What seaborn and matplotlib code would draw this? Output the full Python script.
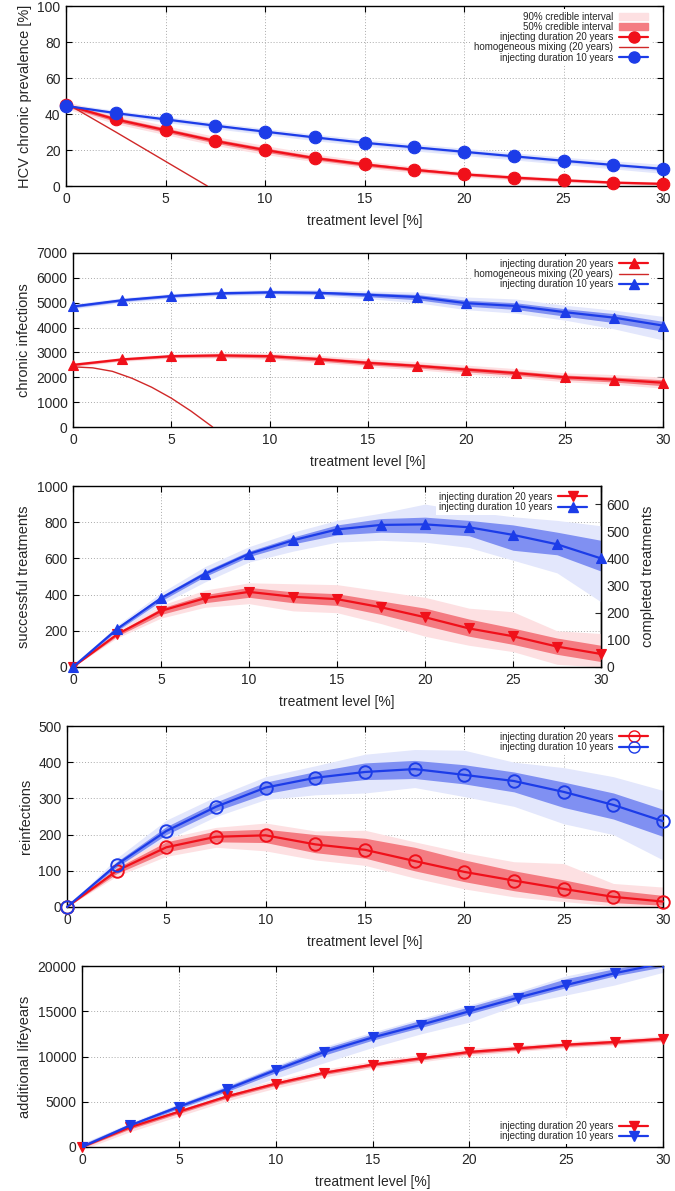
import numpy as np
import pandas as pd
import seaborn as sns
import matplotlib.pyplot as plt
from matplotlib.lines import Line2D
from matplotlib.patches import Patch

# treatment levels [%]
x = [0, 2.5, 5, 7.5, 10, 12.5, 15, 17.5, 20, 22.5, 25, 27.5, 30]

# --- HCV chronic prevalence [%]
prev_red = [45, 37, 31, 25, 20, 15.5, 12, 9, 6.5, 4.7, 3.2, 1.9, 1.2]
prev_red50_lo = [44, 35.8, 29.8, 23.8, 18.8, 14.5, 11, 8.2, 5.8, 4, 2.6, 1.4, 0.8]
prev_red50_hi = [46, 38.2, 32.2, 26.2, 21.2, 16.6, 13, 9.9, 7.3, 5.4, 3.8, 2.4, 1.7]
prev_red90_lo = [43, 34.5, 28.5, 22.5, 17.5, 13.5, 10, 7.3, 5, 3.3, 2, 1, 0.4]
prev_red90_hi = [47, 39.5, 33.5, 27.5, 22.5, 17.8, 14, 10.8, 8, 6.1, 4.4, 3, 2.3]
prev_blue = [44.5, 40.5, 37, 33.5, 30.2, 27, 24, 21.5, 19, 16.5, 14, 11.7, 9.5]
prev_blue50_lo = [43.7, 39.7, 36.2, 32.7, 29.4, 26.2, 23.1, 20.6, 18, 15.5, 13, 10.6, 8.3]
prev_blue50_hi = [45.3, 41.3, 37.8, 34.3, 31, 27.8, 24.9, 22.4, 20, 17.5, 15, 12.8, 10.7]
prev_blue90_lo = [43, 39, 35.3, 31.8, 28.5, 25.2, 22.2, 19.5, 17, 14.5, 12, 9.5, 7]
prev_blue90_hi = [46, 42, 38.6, 35.2, 32, 28.8, 26, 23.4, 21, 18.5, 16, 14, 12]
prev_hom_x = [0, 2.5, 5, 7.1]
prev_hom = [46, 30, 13.7, 0]

# --- chronic infections
chr_red = [2500, 2720, 2850, 2880, 2850, 2730, 2580, 2460, 2310, 2170, 2000, 1910, 1780]
chr_red50_lo = [2460, 2680, 2800, 2820, 2780, 2650, 2500, 2380, 2220, 2080, 1910, 1810, 1660]
chr_red50_hi = [2540, 2760, 2900, 2940, 2920, 2810, 2660, 2540, 2400, 2260, 2090, 2010, 1900]
chr_red90_lo = [2420, 2640, 2760, 2770, 2720, 2590, 2430, 2300, 2140, 1990, 1820, 1720, 1560]
chr_red90_hi = [2580, 2800, 2940, 2990, 2980, 2880, 2740, 2630, 2490, 2350, 2180, 2110, 2010]
chr_blue = [4850, 5100, 5270, 5380, 5420, 5400, 5320, 5230, 4980, 4870, 4620, 4400, 4080]
chr_blue50_lo = [4800, 5050, 5220, 5330, 5370, 5340, 5240, 5120, 4860, 4730, 4460, 4200, 3850]
chr_blue50_hi = [4900, 5150, 5320, 5430, 5470, 5460, 5400, 5330, 5100, 5000, 4760, 4560, 4250]
chr_blue90_lo = [4750, 5000, 5170, 5280, 5310, 5270, 5160, 5000, 4720, 4580, 4300, 3950, 3500]
chr_blue90_hi = [4950, 5200, 5370, 5480, 5530, 5530, 5470, 5430, 5230, 5150, 4900, 4700, 4450]
chr_hom_x = [0, 1, 2, 3, 4, 5, 6, 7.1]
chr_hom = [2420, 2380, 2240, 1960, 1600, 1160, 640, 0]

# --- successful treatments
suc_red = [0, 180, 310, 380, 415, 388, 375, 330, 275, 213, 170, 113, 72]
suc_red50_lo = [0, 170, 290, 355, 385, 355, 340, 290, 230, 170, 125, 70, 30]
suc_red50_hi = [0, 190, 325, 400, 440, 415, 405, 365, 325, 265, 215, 160, 120]
suc_red90_lo = [0, 160, 270, 330, 350, 310, 300, 240, 170, 120, 85, 15, 0]
suc_red90_hi = [0, 200, 340, 425, 465, 460, 455, 420, 385, 325, 305, 200, 185]
suc_blue = [0, 210, 380, 515, 625, 700, 760, 785, 788, 772, 730, 678, 600]
suc_blue50_lo = [0, 200, 365, 500, 610, 680, 730, 745, 740, 725, 645, 620, 530]
suc_blue50_hi = [0, 220, 392, 530, 640, 718, 785, 820, 828, 810, 785, 745, 700]
suc_blue90_lo = [0, 190, 345, 470, 580, 640, 690, 700, 690, 660, 590, 520, 360]
suc_blue90_hi = [0, 230, 410, 555, 665, 745, 810, 850, 900, 860, 830, 810, 780]

# --- reinfections
rei_red = [0, 100, 165, 194, 198, 173, 158, 127, 97, 73, 50, 28, 15]
rei_red50_lo = [0, 92, 152, 180, 178, 150, 135, 100, 70, 45, 25, 12, 5]
rei_red50_hi = [0, 108, 180, 210, 215, 200, 190, 165, 130, 100, 75, 47, 32]
rei_red90_lo = [0, 85, 140, 165, 155, 130, 115, 80, 50, 28, 15, 3, 0]
rei_red90_hi = [0, 115, 190, 220, 232, 210, 212, 180, 150, 125, 120, 65, 55]
rei_blue = [0, 117, 210, 277, 330, 357, 373, 381, 365, 348, 318, 282, 237]
rei_blue50_lo = [0, 110, 200, 265, 313, 338, 352, 355, 340, 318, 275, 243, 195]
rei_blue50_hi = [0, 125, 222, 290, 345, 374, 398, 405, 393, 373, 345, 315, 270]
rei_blue90_lo = [0, 100, 185, 250, 297, 310, 315, 330, 305, 278, 230, 200, 130]
rei_blue90_hi = [0, 135, 240, 305, 360, 390, 422, 435, 433, 400, 385, 360, 322]

# --- additional lifeyears
ly_red = [0, 2200, 3900, 5600, 7000, 8200, 9100, 9800, 10500, 10900, 11300, 11600, 11950]
ly_red50_lo = [-100, 2000, 3700, 5400, 6800, 8000, 8900, 9600, 10300, 10700, 11100, 11400, 11750]
ly_red50_hi = [100, 2400, 4100, 5800, 7200, 8400, 9300, 10000, 10700, 11100, 11500, 11800, 12150]
ly_red90_lo = [-300, 1700, 3400, 5100, 6500, 7700, 8700, 9400, 10100, 10550, 10950, 11250, 11600]
ly_red90_hi = [300, 2600, 4300, 6000, 7400, 8600, 9500, 10200, 10900, 11250, 11650, 11950, 12300]
ly_blue = [0, 2400, 4450, 6400, 8500, 10500, 12100, 13500, 15000, 16500, 17900, 19200, 20300]
ly_blue50_lo = [0, 2250, 4250, 6150, 8200, 10150, 11800, 13200, 14700, 16200, 17600, 18900, 19900]
ly_blue50_hi = [300, 2600, 4700, 6700, 8850, 10900, 12500, 14000, 15500, 17000, 18600, 19700, 20600]
ly_blue90_lo = [0, 2100, 4000, 5800, 7600, 9300, 11000, 12500, 13800, 15700, 16800, 17900, 19300]
ly_blue90_hi = [400, 2700, 4800, 6850, 9000, 11100, 12700, 14200, 15700, 17200, 18900, 20000, 20900]

lbl20 = "injecting duration 20 years"
lbl10 = "injecting duration 10 years"
lblhom = "homogeneous mixing (20 years)"

RED = '#f0101a'
BLUE = '#1c3ce8'
RED50 = '#f47c82'
RED90 = '#fde0e2'
BLUE50 = '#8090f2'
BLUE90 = '#e3e7fc'
HOM = '#d02828'

sns.set_theme(style='ticks')
plt.rcParams['font.family'] = ['Liberation Sans', 'DejaVu Sans']
plt.rcParams['axes.edgecolor'] = 'black'
plt.rcParams['axes.linewidth'] = 1.0

fig = plt.figure(figsize=(6.75, 11.91), dpi=100)

W, H = 675.0, 1191.0
def place(l, r, t, b):
    return fig.add_axes([l / W, 1 - b / H, (r - l) / W, (b - t) / H])

ax1 = place(66, 663, 6, 186)
ax2 = place(73, 663, 253, 427)
ax3 = place(73, 601, 486, 667)
ax4 = place(67, 663, 726, 907)
ax5 = place(82, 663, 966, 1147)

def bands(ax, lo90, hi90, lo50, hi50, c90, c50):
    ax.fill_between(x, lo90, hi90, color=c90, lw=0, zorder=1)
    ax.fill_between(x, lo50, hi50, color=c50, lw=0, zorder=2)

def series(ax, y, color, marker, ms, open_=False, clip=False):
    sns.lineplot(x=x, y=y, ax=ax, color=color, lw=1.6, marker=marker,
                 markersize=ms, markeredgecolor=color,
                 markerfacecolor='none' if open_ else color,
                 markeredgewidth=1.4 if open_ else 0.8,
                 clip_on=clip, zorder=5)

def style(ax, ylim, ystep, ylabel, right=True):
    ax.set_xlim(0, 30)
    ax.set_ylim(*ylim)
    ax.set_xticks(np.arange(0, 31, 5))
    ax.set_yticks(np.arange(ylim[0], ylim[1] + 1, ystep))
    ax.grid(True, color='#aaaaaa', ls=(0, (1, 2)), lw=0.7)
    ax.set_axisbelow(True)
    ax.tick_params(direction='in', top=True, right=right, length=4,
                   width=0.8, labelsize=10, color='black', pad=4)
    ax.set_xlabel("treatment level [%]", fontsize=10, labelpad=6)
    ax.set_ylabel(ylabel, fontsize=10.5)

def legend(ax, handles, labels, loc='upper right', anchor=(0.985, 1.0)):
    lg = ax.legend(handles, labels, loc=loc, bbox_to_anchor=anchor,
                   markerfirst=False,
                   alignment='right', frameon=True, framealpha=1,
                   facecolor='white', edgecolor='none', fancybox=False,
                   prop={'family': ['Liberation Sans Narrow', 'Liberation Sans'], 'size': 7},
                   handlelength=3.0, handletextpad=0.6, labelspacing=0.02,
                   borderpad=0.3, borderaxespad=0.3)
    lg.set_zorder(10)

def hline(color, marker, ms, open_=False):
    return Line2D([], [], color=color, lw=1.6, marker=marker, markersize=ms,
                  markeredgecolor=color,
                  markerfacecolor='none' if open_ else color)

# panel 1
bands(ax1, prev_blue90_lo, prev_blue90_hi, prev_blue50_lo, prev_blue50_hi, BLUE90, '#ccd3f8')
bands(ax1, prev_red90_lo, prev_red90_hi, prev_red50_lo, prev_red50_hi, RED90, RED50)
ax1.plot(prev_hom_x, prev_hom, color=HOM, lw=1.0, zorder=4)
series(ax1, prev_red, RED, 'o', 9)
series(ax1, prev_blue, BLUE, 'o', 9)
style(ax1, (0, 100), 20, "HCV chronic prevalence [%]")
legend(ax1,
       [Patch(color=RED90), Patch(color=RED50), hline(RED, 'o', 8),
        Line2D([], [], color=HOM, lw=1.0), hline(BLUE, 'o', 8)],
       ["90% credible interval", "50% credible interval", lbl20, lblhom, lbl10])

# panel 2
bands(ax2, chr_blue90_lo, chr_blue90_hi, chr_blue50_lo, chr_blue50_hi, BLUE90, BLUE50)
bands(ax2, chr_red90_lo, chr_red90_hi, chr_red50_lo, chr_red50_hi, RED90, RED50)
ax2.plot(chr_hom_x, chr_hom, color=HOM, lw=1.0, zorder=4)
series(ax2, chr_red, RED, '^', 7)
series(ax2, chr_blue, BLUE, '^', 7)
style(ax2, (0, 7000), 1000, "chronic infections")
legend(ax2, [hline(RED, '^', 7), Line2D([], [], color=HOM, lw=1.0), hline(BLUE, '^', 7)],
       [lbl20, lblhom, lbl10])

# panel 3
bands(ax3, suc_blue90_lo, suc_blue90_hi, suc_blue50_lo, suc_blue50_hi, BLUE90, BLUE50)
bands(ax3, suc_red90_lo, suc_red90_hi, suc_red50_lo, suc_red50_hi, RED90, RED50)
series(ax3, suc_red, RED, 'v', 7)
series(ax3, suc_blue, BLUE, '^', 7)
style(ax3, (0, 1000), 200, "successful treatments", right=False)
sec = ax3.secondary_yaxis('right', functions=(lambda v: v * 2 / 3, lambda v: v * 1.5))
sec.set_yticks(np.arange(0, 601, 100))
sec.tick_params(direction='in', length=4, width=0.8, labelsize=10, pad=4)
sec.set_ylabel("completed treatments", fontsize=10.5, labelpad=8)
legend(ax3, [hline(RED, 'v', 7), hline(BLUE, '^', 7)], [lbl20, lbl10])

# panel 4
bands(ax4, rei_blue90_lo, rei_blue90_hi, rei_blue50_lo, rei_blue50_hi, BLUE90, BLUE50)
bands(ax4, rei_red90_lo, rei_red90_hi, rei_red50_lo, rei_red50_hi, RED90, RED50)
series(ax4, rei_red, RED, 'o', 9, open_=True)
series(ax4, rei_blue, BLUE, 'o', 9, open_=True)
style(ax4, (0, 500), 100, "reinfections")
legend(ax4, [hline(RED, 'o', 8, True), hline(BLUE, 'o', 8, True)], [lbl20, lbl10])

# panel 5
bands(ax5, ly_red90_lo, ly_red90_hi, ly_red50_lo, ly_red50_hi, RED90, RED50)
bands(ax5, ly_blue90_lo, ly_blue90_hi, ly_blue50_lo, ly_blue50_hi, BLUE90, BLUE50)
series(ax5, ly_red, RED, 'v', 7)
series(ax5, ly_blue, BLUE, 'v', 7, clip=True)
style(ax5, (0, 20000), 5000, "additional lifeyears")
legend(ax5, [hline(RED, 'v', 7), hline(BLUE, 'v', 7)], [lbl20, lbl10],
       loc='lower right', anchor=(0.985, 0.0))

fig.savefig("out.png", dpi=100)
